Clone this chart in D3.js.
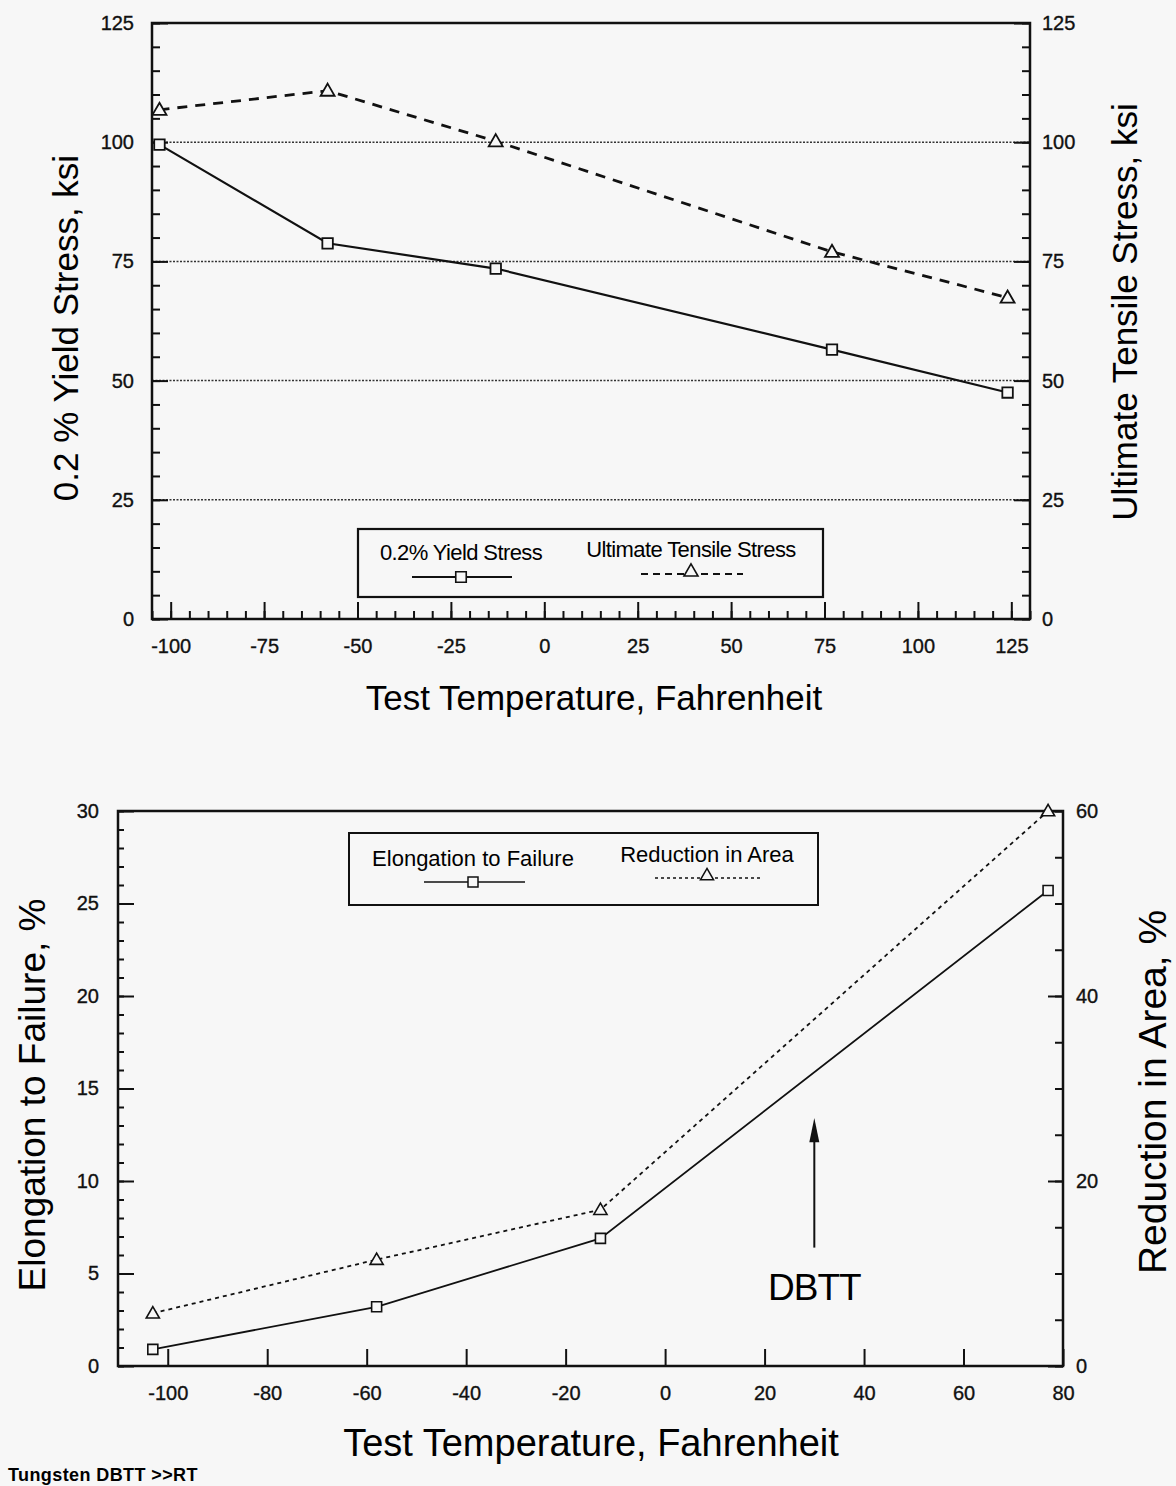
<!DOCTYPE html>
<html>
<head>
<meta charset="utf-8">
<script src="https://cdn.jsdelivr.net/npm/d3@7"></script>
<style>
  body { margin: 0; background: #f7f7f7; }
  svg { display: block; font-family: "Liberation Sans", Arial, sans-serif; }
  .tick text { fill: #111; stroke: #111; stroke-width: 0.35; }
</style>
</head>
<body>
<svg id="chart"></svg>
<script>
// Canvas size
const width = 1176;
const height = 1486;

// Top chart: yield / tensile stress vs temperature
const tempTop = [-103, -58, -13, 77, 124];
const yieldStress = [99.5, 78.8, 73.5, 56.5, 47.5];
const tensileStress = [106.8, 110.8, 100.2, 77, 67.4];
const topXTicks = [-100, -75, -50, -25, 0, 25, 50, 75, 100, 125];
const topYTicks = [0, 25, 50, 75, 100, 125];
const topGrid = [25, 50, 75, 100];

// Bottom chart: elongation / reduction in area vs temperature
const tempBottom = [-103, -58, -13, 77];
const elongation = [0.9, 3.2, 6.9, 25.7];
const reductionArea = [5.7, 11.5, 16.9, 60];
const bottomXTicks = [-100, -80, -60, -40, -20, 0, 20, 40, 60, 80];
const bottomLeftTicks = [0, 5, 10, 15, 20, 25, 30];
const bottomRightTicks = [0, 20, 40, 60];
const dbttTemp = 30;

const svg = d3.select("#chart")
    .attr("width", width)
    .attr("height", height);

svg.append("rect").attr("width", width).attr("height", height).attr("fill", "#f7f7f7");

// helper: inward axis with major + minor ticks
function drawAxis(g, axisFn, scale, major, minor, majorLen, minorLen, pad, fontSize) {
    g.append("g").call(axisFn(scale).tickValues(minor).tickSize(-minorLen).tickFormat(""));
    const a = g.append("g").call(axisFn(scale).tickValues(major).tickSize(-majorLen).tickPadding(pad)
        .tickFormat(d => String(d)));
    g.selectAll("path.domain").remove();
    g.selectAll("line").attr("stroke", "#111").attr("stroke-width", 2);
    a.selectAll("text").attr("font-size", fontSize);
    return a;
}

// ---------------- Top chart ----------------
const t = { left: 152, right: 1030, top: 23, bottom: 619 };
const xTop = d3.scaleLinear().domain([-105, 130]).range([t.left, t.right]);
const yTop = d3.scaleLinear().domain([0, 125]).range([t.bottom, t.top]);

const topG = svg.append("g");

// dotted gridlines
topG.selectAll("line.grid")
    .data(topGrid)
    .enter()
    .append("line")
    .attr("x1", t.left).attr("x2", t.right)
    .attr("y1", d => yTop(d)).attr("y2", d => yTop(d))
    .attr("stroke", "#333").attr("stroke-width", 1.5)
    .attr("stroke-dasharray", "2,1.5");

drawAxis(topG.append("g").attr("transform", `translate(${t.left},0)`), d3.axisLeft, yTop,
    topYTicks, d3.range(0, 126, 5), 16, 8, 18, 20);
drawAxis(topG.append("g").attr("transform", `translate(${t.right},0)`), d3.axisRight, yTop,
    topYTicks, d3.range(0, 126, 5), 16, 8, 12, 20);
drawAxis(topG.append("g").attr("transform", `translate(0,${t.bottom})`), d3.axisBottom, xTop,
    topXTicks, d3.range(-105, 131, 5), 17, 8, 20, 20);

topG.append("rect")
    .attr("x", t.left).attr("y", t.top)
    .attr("width", t.right - t.left).attr("height", t.bottom - t.top)
    .attr("fill", "none").attr("stroke", "#111").attr("stroke-width", 2.5);

const lineTopY = d3.line().x((d, i) => xTop(tempTop[i])).y(d => yTop(d));

topG.append("path")
    .datum(tensileStress)
    .attr("d", lineTopY)
    .attr("fill", "none").attr("stroke", "#111").attr("stroke-width", 2.8)
    .attr("stroke-dasharray", "10,8");

topG.append("path")
    .datum(yieldStress)
    .attr("d", lineTopY)
    .attr("fill", "none").attr("stroke", "#111").attr("stroke-width", 2.2);

const sq = d3.symbol(d3.symbolSquare).size(110);
const tri = d3.symbol(d3.symbolTriangle).size(85);

topG.selectAll("path.sq")
    .data(yieldStress)
    .enter()
    .append("path")
    .attr("d", sq)
    .attr("transform", (d, i) => `translate(${xTop(tempTop[i])},${yTop(d)})`)
    .attr("fill", "#f7f7f7").attr("stroke", "#111").attr("stroke-width", 1.8);

topG.selectAll("path.tri")
    .data(tensileStress)
    .enter()
    .append("path")
    .attr("d", tri)
    .attr("transform", (d, i) => `translate(${xTop(tempTop[i])},${yTop(d) + 1})`)
    .attr("fill", "#f7f7f7").attr("stroke", "#111").attr("stroke-width", 1.8);

// legend
topG.append("rect")
    .attr("x", 358).attr("y", 529).attr("width", 465).attr("height", 68)
    .attr("fill", "#f7f7f7").attr("stroke", "#111").attr("stroke-width", 2.2);
topG.append("text").attr("x", 461).attr("y", 560).attr("text-anchor", "middle")
    .attr("font-size", 22).attr("letter-spacing", -0.6).text("0.2% Yield Stress");
topG.append("text").attr("x", 691).attr("y", 557).attr("text-anchor", "middle")
    .attr("font-size", 22).attr("letter-spacing", -0.6).text("Ultimate Tensile Stress");
topG.append("line").attr("x1", 412).attr("x2", 512).attr("y1", 577).attr("y2", 577)
    .attr("stroke", "#111").attr("stroke-width", 2);
topG.append("path").attr("d", sq).attr("transform", "translate(461,577)")
    .attr("fill", "#f7f7f7").attr("stroke", "#111").attr("stroke-width", 1.6);
topG.append("line").attr("x1", 641).attr("x2", 743).attr("y1", 574).attr("y2", 574)
    .attr("stroke", "#111").attr("stroke-width", 2).attr("stroke-dasharray", "7,5");
topG.append("path").attr("d", tri).attr("transform", "translate(691,572)")
    .attr("fill", "#f7f7f7").attr("stroke", "#111").attr("stroke-width", 1.6);

// axis titles
topG.append("text").attr("transform", "translate(78,328) rotate(-90)")
    .attr("text-anchor", "middle").attr("font-size", 35).text("0.2 % Yield Stress, ksi");
topG.append("text").attr("transform", "translate(1137,312) rotate(-90)")
    .attr("text-anchor", "middle").attr("font-size", 35).text("Ultimate Tensile Stress, ksi");
topG.append("text").attr("x", 594).attr("y", 710)
    .attr("text-anchor", "middle").attr("font-size", 35).text("Test Temperature, Fahrenheit");

// ---------------- Bottom chart ----------------
const b = { left: 118, right: 1063, top: 811, bottom: 1366 };
const xBot = d3.scaleLinear().domain([-110, 80]).range([b.left, b.right]);
const yLeft = d3.scaleLinear().domain([0, 30]).range([b.bottom, b.top]);
const yRight = d3.scaleLinear().domain([0, 60]).range([b.bottom, b.top]);

const botG = svg.append("g");

drawAxis(botG.append("g").attr("transform", `translate(${b.left},0)`), d3.axisLeft, yLeft,
    bottomLeftTicks, d3.range(0, 31, 1), 16, 6, 19, 20);
drawAxis(botG.append("g").attr("transform", `translate(${b.right},0)`), d3.axisRight, yRight,
    bottomRightTicks, d3.range(0, 61, 5), 15, 8, 13, 20);
drawAxis(botG.append("g").attr("transform", `translate(0,${b.bottom})`), d3.axisBottom, xBot,
    bottomXTicks, [], 17, 0, 20, 20);

botG.append("rect")
    .attr("x", b.left).attr("y", b.top)
    .attr("width", b.right - b.left).attr("height", b.bottom - b.top)
    .attr("fill", "none").attr("stroke", "#111").attr("stroke-width", 2.5);

botG.append("path")
    .datum(reductionArea)
    .attr("d", d3.line().x((d, i) => xBot(tempBottom[i])).y(d => yRight(d)))
    .attr("fill", "none").attr("stroke", "#111").attr("stroke-width", 1.8)
    .attr("stroke-dasharray", "4,4");

botG.append("path")
    .datum(elongation)
    .attr("d", d3.line().x((d, i) => xBot(tempBottom[i])).y(d => yLeft(d)))
    .attr("fill", "none").attr("stroke", "#111").attr("stroke-width", 1.8);

const sqB = d3.symbol(d3.symbolSquare).size(100);
const triB = d3.symbol(d3.symbolTriangle).size(75);

botG.selectAll("path.sq")
    .data(elongation)
    .enter()
    .append("path")
    .attr("d", sqB)
    .attr("transform", (d, i) => `translate(${xBot(tempBottom[i])},${yLeft(d)})`)
    .attr("fill", "#f7f7f7").attr("stroke", "#111").attr("stroke-width", 1.6);

botG.selectAll("path.tri")
    .data(reductionArea)
    .enter()
    .append("path")
    .attr("d", triB)
    .attr("transform", (d, i) => `translate(${xBot(tempBottom[i])},${yRight(d) + 1})`)
    .attr("fill", "#f7f7f7").attr("stroke", "#111").attr("stroke-width", 1.6);

// legend
botG.append("rect")
    .attr("x", 349).attr("y", 833).attr("width", 469).attr("height", 72)
    .attr("fill", "#f7f7f7").attr("stroke", "#111").attr("stroke-width", 2);
botG.append("text").attr("x", 473).attr("y", 866).attr("text-anchor", "middle")
    .attr("font-size", 22).attr("letter-spacing", 0).text("Elongation to Failure");
botG.append("text").attr("x", 707).attr("y", 862).attr("text-anchor", "middle")
    .attr("font-size", 22).attr("letter-spacing", 0).text("Reduction in Area");
botG.append("line").attr("x1", 424).attr("x2", 525).attr("y1", 882).attr("y2", 882)
    .attr("stroke", "#111").attr("stroke-width", 1.6);
botG.append("path").attr("d", sqB).attr("transform", "translate(473,882)")
    .attr("fill", "#f7f7f7").attr("stroke", "#111").attr("stroke-width", 1.5);
botG.append("line").attr("x1", 655).attr("x2", 760).attr("y1", 878).attr("y2", 878)
    .attr("stroke", "#111").attr("stroke-width", 1.6).attr("stroke-dasharray", "3,3");
botG.append("path").attr("d", triB).attr("transform", "translate(707,876)")
    .attr("fill", "#f7f7f7").attr("stroke", "#111").attr("stroke-width", 1.5);

// DBTT arrow
const ax = xBot(dbttTemp);
botG.append("line")
    .attr("x1", ax).attr("x2", ax)
    .attr("y1", yLeft(6.4)).attr("y2", yLeft(12.5))
    .attr("stroke", "#111").attr("stroke-width", 2);
botG.append("path")
    .attr("d", `M${ax},${yLeft(13.4)} L${ax - 5},${yLeft(12.1)} L${ax + 5},${yLeft(12.1)} Z`)
    .attr("fill", "#111");
botG.append("text").attr("x", ax).attr("y", 1300).attr("text-anchor", "middle")
    .attr("font-size", 37).attr("letter-spacing", -1).text("DBTT");

// axis titles
botG.append("text").attr("transform", "translate(45,1095) rotate(-90)")
    .attr("text-anchor", "middle").attr("font-size", 37).text("Elongation to Failure,  %");
botG.append("text").attr("transform", "translate(1166,1092) rotate(-90)")
    .attr("text-anchor", "middle").attr("font-size", 39).text("Reduction in Area, %");
botG.append("text").attr("x", 591).attr("y", 1456)
    .attr("text-anchor", "middle").attr("font-size", 38).text("Test Temperature, Fahrenheit");

svg.append("text").attr("x", 8).attr("y", 1481)
    .attr("font-size", 18).attr("font-weight", "bold").attr("letter-spacing", 0.4)
    .text("Tungsten DBTT >>RT");
</script>
</body>
</html>
